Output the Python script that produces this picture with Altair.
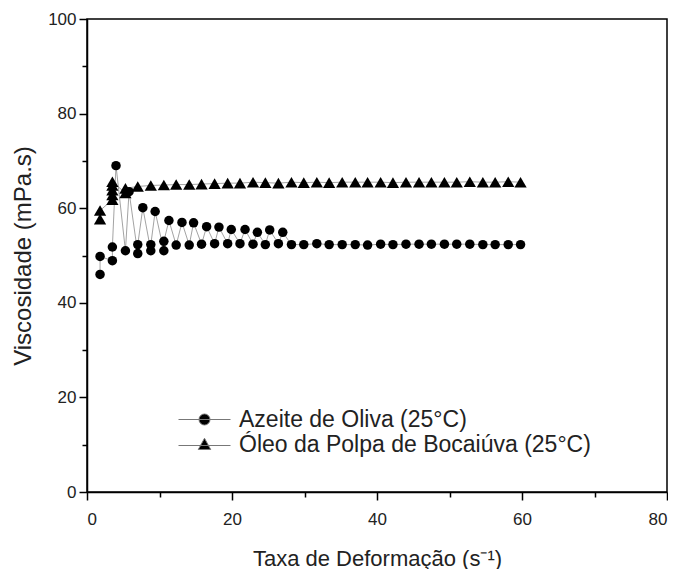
import altair as alt
import pandas as pd

# ---- data ----
series_names = ["Azeite de Oliva (25°C)", "Óleo da Polpa de Bocaiúva (25°C)"]

x_oli = [1.8, 1.8, 3.5, 3.5, 4.0, 5.3, 5.8, 7.0, 7.0, 7.7, 8.8, 8.8, 9.4, 10.6, 10.6,
         11.3, 12.3, 13.1, 14.1, 14.7, 15.8, 16.5, 17.6, 18.2, 19.4, 19.9, 21.1, 21.8,
         22.9, 23.5, 24.6, 25.2, 26.4, 27.0, 28.2, 29.9, 31.7, 33.4, 35.2, 37.0, 38.7,
         40.5, 42.2, 44.0, 45.8, 47.5, 49.3, 51.0, 52.8, 54.6, 56.3, 58.1, 59.8]
y_oli = [46.0, 49.8, 48.9, 51.8, 69.0, 51.0, 63.5, 50.4, 52.3, 60.1, 51.0, 52.3, 59.3,
         51.0, 53.0, 57.4, 52.2, 57.0, 52.2, 56.9, 52.4, 56.1, 52.5, 56.0, 52.5, 55.5,
         52.5, 55.5, 52.4, 54.9, 52.3, 55.4, 52.5, 54.9, 52.3, 52.3, 52.5, 52.3, 52.3,
         52.3, 52.2, 52.4, 52.3, 52.4, 52.4, 52.4, 52.4, 52.4, 52.4, 52.3, 52.3, 52.3, 52.3]

x_tri = [1.8, 1.8, 3.5, 3.5, 3.5, 3.5, 3.5, 5.3, 5.3, 7.0, 8.8, 10.6, 12.3, 14.1, 15.8,
         17.6, 19.4, 21.1, 22.9, 24.6, 26.4, 28.2, 29.9, 31.7, 33.4, 35.2, 37.0, 38.7,
         40.5, 42.2, 44.0, 45.8, 47.5, 49.3, 51.0, 52.8, 54.6, 56.3, 58.1, 59.8]
y_tri = [57.7, 59.5, 61.8, 62.8, 63.8, 64.8, 65.6, 63.2, 64.2, 64.6, 64.8, 64.9, 65.0,
         65.0, 65.1, 65.2, 65.3, 65.3, 65.5, 65.4, 65.3, 65.5, 65.4, 65.5, 65.4, 65.5,
         65.5, 65.5, 65.5, 65.4, 65.5, 65.5, 65.5, 65.5, 65.5, 65.6, 65.5, 65.5, 65.6, 65.5]

x_ticks = [0, 10, 20, 30, 40, 50, 60, 70, 80]
y_ticks = [0, 10, 20, 30, 40, 50, 60, 70, 80, 90, 100]

rows = []
for i, (a, b) in enumerate(zip(x_oli, y_oli)):
    rows.append({"serie": series_names[0], "x": a, "y": b, "ordem": i})
for i, (a, b) in enumerate(zip(x_tri, y_tri)):
    rows.append({"serie": series_names[1], "x": a, "y": b, "ordem": i})
df = pd.DataFrame(rows)

FONT = "Liberation Sans"

x_enc = alt.X("x:Q", scale=alt.Scale(domain=[0, 80], nice=False),
              axis=alt.Axis(values=x_ticks, title="Taxa de Deformação (s⁻¹)",
                            labelExpr="datum.value % 20 === 0 ? datum.label : ''",
                            tickSize={"condition": {"test": "datum.value % 20 === 0", "value": 8}, "value": 5},
                            labelPadding=11, titlePadding=21, titleFontSize=22, grid=False))
y_enc = alt.Y("y:Q", scale=alt.Scale(domain=[0, 100], nice=False),
              axis=alt.Axis(values=y_ticks, title="Viscosidade (mPa.s)",
                            labelExpr="datum.value % 20 === 0 ? datum.label : ''",
                            tickSize={"condition": {"test": "datum.value % 20 === 0", "value": 8}, "value": 5},
                            labelPadding=3, titlePadding=12, titleFontSize=24, grid=False))

base = alt.Chart(df)

lines = base.mark_line(color="#8c8c8c", strokeWidth=0.8).encode(
    x=x_enc, y=y_enc, detail="serie:N", order="ordem:Q")

points = base.mark_point(filled=True, color="black", opacity=1).encode(
    x=x_enc, y=y_enc,
    shape=alt.Shape("serie:N", scale=alt.Scale(domain=series_names, range=["circle", "triangle-up"]), legend=None),
    size=alt.Size("serie:N", scale=alt.Scale(domain=series_names, range=[90, 150]), legend=None),
)

# legend symbols: unit = 10 px (symbolSize 400); a line through the marker
circ_path = "M-2.6,0L2.6,0M0.55,0A0.55,0.55,0,1,1,-0.55,0A0.55,0.55,0,1,1,0.55,0Z"
tri_path = "M-2.6,0.1L2.6,0.1M-0.62,0.5L0,-0.62L0.62,0.5Z"

leg = alt.Legend(orient="none", legendX=106, legendY=389, title=None,
                 symbolSize=400, symbolFillColor="black",
                 symbolStrokeColor="#777777", symbolStrokeWidth=1,
                 symbolOpacity=1, labelLimit=0,
                 labelFont=FONT, labelFontSize=23, labelColor="#222222",
                 labelOffset=23, rowPadding=1, padding=0)

legend_layer = base.transform_filter("false").mark_point(
    filled=False, fill="black", strokeWidth=1, opacity=1, fillOpacity=1
).encode(
    x=x_enc, y=y_enc,
    shape=alt.Shape("serie:N", scale=alt.Scale(domain=series_names, range=[circ_path, tri_path]), legend=leg),
    stroke=alt.Stroke("serie:N", scale=alt.Scale(domain=series_names, range=["#777777", "#777777"]), legend=leg),
)

chart = alt.layer(lines, points, legend_layer).resolve_scale(
    shape="independent", size="independent", stroke="independent"
).properties(
    width=580, height=473, padding={"top": 2, "left": 3, "right": 0, "bottom": 0}
).configure_view(
    stroke="black", strokeWidth=1.5
).configure_axis(
    domainColor="black", domainWidth=1.5, tickColor="black", tickWidth=1.5,
    labelFont=FONT, labelFontSize=17, labelColor="#222222",
    titleFont=FONT, titleFontWeight="normal", titleColor="#222222",
)

chart.save("out.html", embed_options={"renderer": "svg", "actions": False})
